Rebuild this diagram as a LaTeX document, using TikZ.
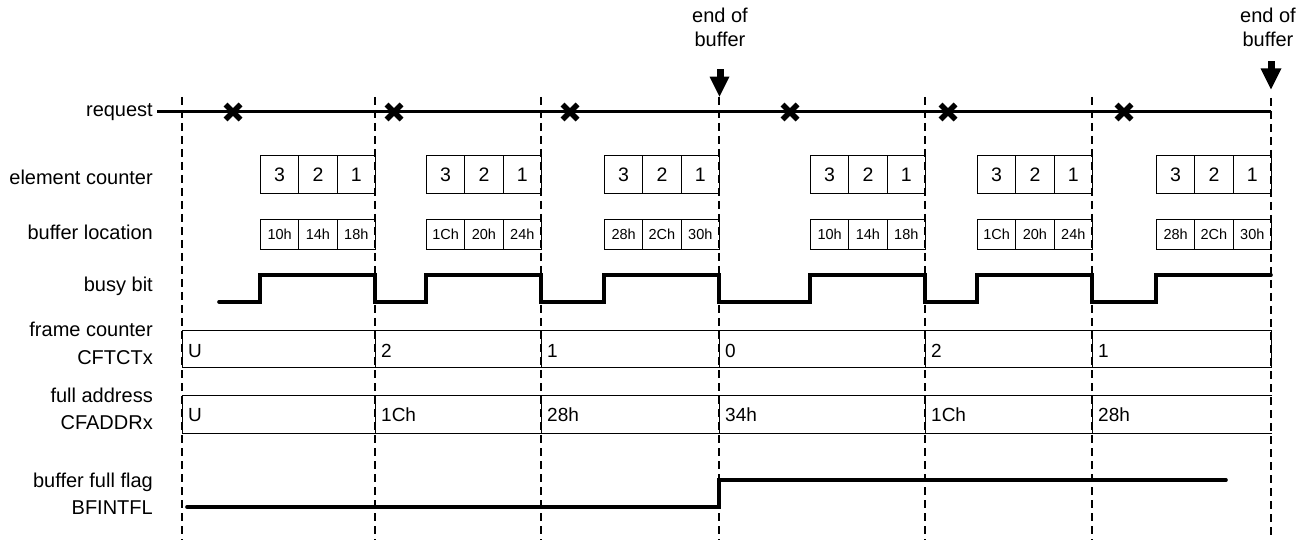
\documentclass[tikz,border=0pt]{standalone}
\usepackage{fontspec}
\setmainfont{Liberation Sans}
\begin{document}
\begin{tikzpicture}[x=1pt,y=-1pt,
  lbl/.style={anchor=base east, inner sep=0pt, font=\fontsize{20}{24}\selectfont},
  eob/.style={anchor=base, inner sep=0pt, font=\fontsize{20}{24}\selectfont},
  guide/.style={line width=1.3pt, dash pattern=on 8pt off 5pt},
  sig/.style={line width=3.6pt, line cap=round, line join=miter},
  reqline/.style={line width=3pt},
  xmark/.style={line width=5.5pt},
  ecell/.style={draw, line width=0.9pt, minimum width=38.33pt, minimum height=38pt, inner sep=0pt, anchor=north west, font=\fontsize{19.5}{22}\selectfont},
  bcell/.style={draw, line width=0.9pt, minimum width=38.33pt, minimum height=30pt, inner sep=0pt, anchor=north west, font=\fontsize{14.5}{17}\selectfont},
  valbox/.style={line width=1pt, minimum height=37pt, inner sep=0pt, anchor=north west},
  val/.style={anchor=base west, inner sep=0pt, font=\fontsize{19}{22}\selectfont},
]
\useasboundingbox (0,0) rectangle (1310,540);

% dashed guide lines
\foreach \d/\t in {182/97,375/97,541/97,719/97,925/97,1092/97,1271/98}
  \draw[guide] (\d,\t) -- (\d,540);

% end of buffer markers
\node[eob] (eob1a) at (720,23) {end of};
\node[eob] (eob1b) at (720,47) {buffer};
\fill (716.5,69.5) rectangle (723.5,77.5);
\fill (709.5,76.7) -- (729.5,76.7) -- (719.5,96.7) -- cycle;
\node[eob] (eob2a) at (1268,23) {end of};
\node[eob] (eob2b) at (1268,47) {buffer};
\fill (1267.5,61) rectangle (1274.5,69);
\fill (1260.5,68.3) -- (1281.5,68.3) -- (1271,89.3) -- cycle;

% signal labels
\node[lbl] (req) at (153,117) {request};
\node[lbl] (ecl) at (153,185) {element counter};
\node[lbl] (bll) at (153,240) {buffer location};
\node[lbl] (bbl) at (153,292) {busy bit};
\node[lbl] (fcl1) at (153,337) {frame counter};
\node[lbl] (fcl2) at (153,364) {CFTCTx};
\node[lbl] (fal1) at (153,402) {full address};
\node[lbl] (fal2) at (153,429) {CFADDRx};
\node[lbl] (bfl1) at (153,487) {buffer full flag};
\node[lbl] (bfl2) at (153,514) {BFINTFL};

% request line with marks
\coordinate (reqstart) at (157,112);
\coordinate (reqend) at (1271,112);
\draw[reqline] (reqstart) -- (reqend);
\foreach \c in {233,394,570,790,948,1124}
  \draw[xmark] (\c-7.5,104.5) -- (\c+7.5,119.5) (\c-7.5,119.5) -- (\c+7.5,104.5);

% element counter and buffer location cells
\foreach \d/\a/\b/\c [count=\i] in {375/10h/14h/18h, 541/1Ch/20h/24h, 719/28h/2Ch/30h, 925/10h/14h/18h, 1092/1Ch/20h/24h, 1271/28h/2Ch/30h} {
  \node[ecell] (ec\i a) at ({\d-115},155) {3};
  \node[ecell] (ec\i b) at ({\d-76.67},155) {2};
  \node[ecell] (ec\i c) at ({\d-38.33},155) {1};
  \node[bcell] (bl\i a) at ({\d-115},219) {\a};
  \node[bcell] (bl\i b) at ({\d-76.67},219) {\b};
  \node[bcell] (bl\i c) at ({\d-38.33},219) {\c};
}

% busy bit
\draw[sig] (219,302) -- (260,302) -- (260,275) -- (375,275) -- (375,302)
  -- (426,302) -- (426,275) -- (541,275) -- (541,302)
  -- (604,302) -- (604,275) -- (719,275) -- (719,302)
  -- (810,302) -- (810,275) -- (925,275) -- (925,302)
  -- (977,302) -- (977,275) -- (1092,275) -- (1092,302)
  -- (1156,302) -- (1156,275) -- (1271,275);

% frame counter and full address
\foreach \a/\b/\f/\g [count=\i] in {182/375/U/U, 375/541/2/1Ch, 541/719/1/28h, 719/925/0/34h, 925/1092/2/1Ch, 1092/1271/1/28h} {
  \pgfmathsetmacro\w{\b-\a}
  \node[valbox, draw, minimum width=\w pt] (fc\i) at (\a,329.5) {};
  \node[val] (fcv\i) at (\a+6,357) {\f};
  \node[valbox, minimum width=\w pt] (fa\i) at (\a,395) {};
  \draw[line width=1pt] (fa\i.north east) -- (fa\i.north west) -- (fa\i.south west) -- (fa\i.south east);
  \node[val] (fav\i) at (\a+6,421) {\g};
}

% buffer full flag
\draw[sig] (187,507) -- (719,507) -- (719,480) -- (1226,480);
\end{tikzpicture}
\end{document}
